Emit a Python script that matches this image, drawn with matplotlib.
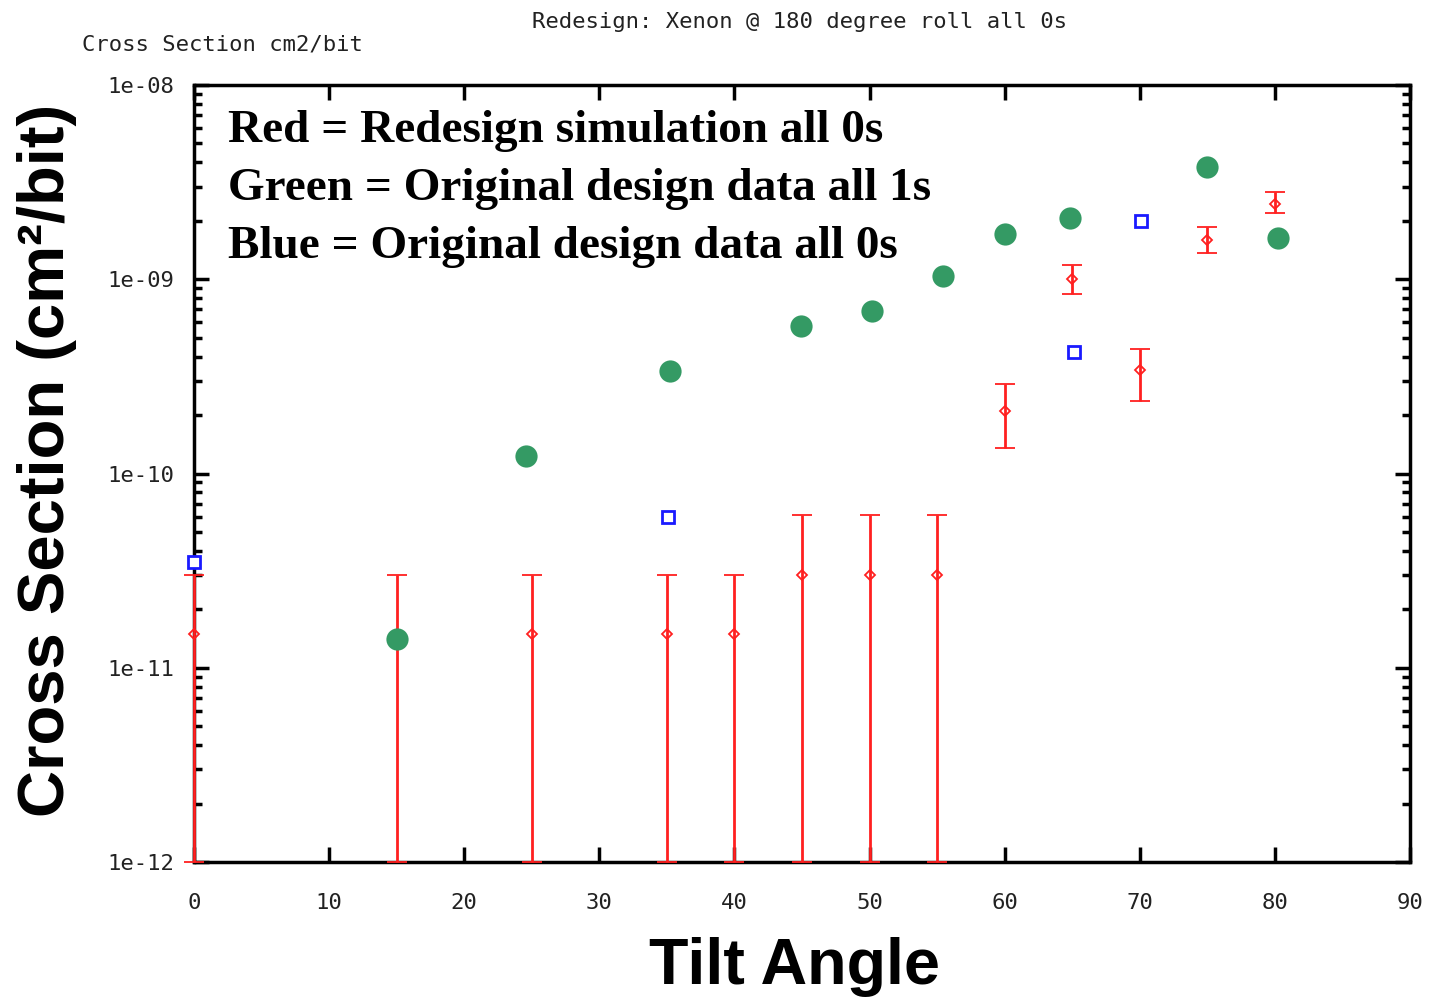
import matplotlib.pyplot as plt
import numpy as np

# red: redesign simulation, all 0s (value, lower, upper)
red_x = [0, 15, 25, 35, 40, 45, 50, 55, 60, 65, 70, 75, 80]
red_y = [1.5e-11, 1.5e-11, 1.5e-11, 1.5e-11, 1.5e-11, 3e-11, 3e-11, 3e-11,
         2.1e-10, 1.0e-9, 3.4e-10, 1.6e-9, 2.45e-9]
red_lo = [1e-12, 1e-12, 1e-12, 1e-12, 1e-12, 1e-12, 1e-12, 1e-12,
          1.35e-10, 8.4e-10, 2.35e-10, 1.36e-9, 2.2e-9]
red_hi = [3e-11, 3e-11, 3e-11, 3e-11, 3e-11, 6.1e-11, 6.1e-11, 6.1e-11,
          2.9e-10, 1.18e-9, 4.4e-10, 1.86e-9, 2.8e-9]

# green: original design data, all 1s
green_x = [15, 24.6, 35.2, 44.9, 50.2, 55.4, 60, 64.8, 75, 80.2]
green_y = [1.4e-11, 1.23e-10, 3.37e-10, 5.75e-10, 6.9e-10, 1.04e-9,
           1.71e-9, 2.07e-9, 3.8e-9, 1.63e-9]

# blue: original design data, all 0s
blue_x = [0, 35.1, 65.1, 70.1]
blue_y = [3.5e-11, 6e-11, 4.2e-10, 2.0e-9]

mono = 'DejaVu Sans Mono'

fig = plt.figure(figsize=(14.31, 10), dpi=100)
ax = fig.add_axes([0.1356, 0.138, 0.8497, 0.777])

ry = np.array(red_y)
yerr = [ry - np.array(red_lo), np.array(red_hi) - ry]
ax.errorbar(red_x, red_y, yerr=yerr, fmt='D', color='#ff2020', mfc='none',
            ms=5, mew=1.3, elinewidth=2, capsize=7, capthick=2,
            clip_on=False, zorder=3)
for art in ax.lines + list(ax.collections):
    art.set_clip_on(False)

ax.plot(blue_x, blue_y, 's', color='#1a1aff', mfc='white', ms=8, mew=2,
        clip_on=False, zorder=4)
ax.plot(green_x, green_y, 'o', color='#349a64', ms=16, mew=0, zorder=5)

ax.set_yscale('log')
ax.set_xlim(0, 90)
ax.set_ylim(1e-12, 1e-8)
ax.set_xticks(range(0, 91, 10))
ax.set_yticks([1e-12, 1e-11, 1e-10, 1e-9, 1e-8])
ax.set_yticklabels(['1e-12', '1e-11', '1e-10', '1e-09', '1e-08'])

for sp in ax.spines.values():
    sp.set_linewidth(2.5)
ax.tick_params(which='both', direction='in', top=True, right=True)
ax.tick_params(which='major', length=11, width=2.5, pad=14,
               labelsize=16, labelcolor='#222222')
ax.tick_params(which='minor', length=6, width=2.5)
ax.tick_params(axis='x', which='minor', bottom=False, top=False)
for lab in ax.get_xticklabels() + ax.get_yticklabels():
    lab.set_family(mono)
ax.tick_params(axis='x', pad=22)

fig.text(0.057, 0.955, 'Cross Section cm2/bit', family=mono, fontsize=16,
         color='#222222', ha='left', va='center')
fig.text(0.559, 0.978, 'Redesign: Xenon @ 180 degree roll all 0s',
         family=mono, fontsize=16, color='#222222', ha='center', va='center')

fig.text(0.033, 0.54, 'Cross Section (cm²/bit)', family='Liberation Sans',
         fontweight='bold', fontsize=47, rotation=90, ha='center', va='center')
fig.text(0.555, 0.033, 'Tilt Angle', family='Liberation Sans',
         fontweight='bold', fontsize=46.5, ha='center', va='center')

notes = ['Red = Redesign simulation all 0s',
         'Green = Original design data all 1s',
         'Blue = Original design data all 0s']
for i, t in enumerate(notes):
    fig.text(0.159, 0.869 - i * 0.058, t, family='Liberation Serif',
             fontweight='bold', fontsize=34, ha='left', va='center')

fig.savefig('out.png', dpi=100)
